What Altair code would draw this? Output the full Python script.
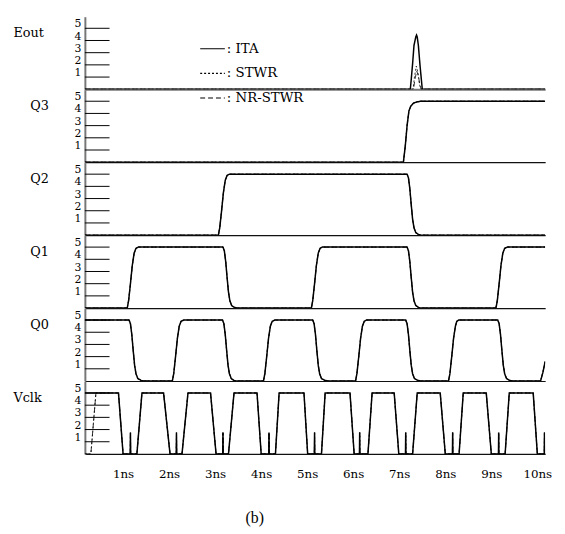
import altair as alt
import pandas as pd

SERIES = ["ITA", "STWR", "NR-STWR"]
PANELS = ["Eout", "Q3", "Q2", "Q1", "Q0", "Vclk"]
Y_TICKS = [1, 2, 3, 4, 5]
X_TICKS = [1, 2, 3, 4, 5, 6, 7, 8, 9, 10]

# ---- Eout (spike near 7.2 ns) ----
EOUT_ITA_T = [0, 7.07, 7.09, 7.12, 7.15, 7.19, 7.205, 7.22, 7.245, 7.28, 7.31, 7.33, 10.0]
EOUT_ITA_V = [0, 0, 0.8, 2.1, 3.6, 4.3, 4.45, 4.3, 3.6, 2.0, 0.8, 0, 0]
EOUT_STWR_T = [0, 7.13, 7.16, 7.20, 7.24, 7.27, 7.30, 10.0]
EOUT_STWR_V = [0, 0, 1.0, 1.9, 1.3, 0.4, 0, 0]
EOUT_NR_T = [0, 7.14, 7.17, 7.21, 7.25, 7.28, 7.31, 10.0]
EOUT_NR_V = [0, 0, 0.8, 1.5, 1.0, 0.3, 0, 0]

# ---- Q3 ----
Q3_T = [0, 6.92, 6.96, 7.00, 7.04, 7.08, 7.14, 7.22, 7.30, 10.0]
Q3_V = [0, 0, 1.3, 3.0, 4.2, 4.6, 4.85, 4.95, 5, 5]

# ---- Q2 ----
Q2_T = [0, 2.90, 2.93, 2.97, 3.01, 3.05, 3.09, 3.14,
        7.00, 7.03, 7.06, 7.09, 7.12, 7.15, 7.19, 7.25, 7.30, 10.0]
Q2_V = [0, 0, 0.6, 2.0, 3.5, 4.5, 4.9, 5,
        5, 4.7, 3.8, 2.5, 1.3, 0.6, 0.2, 0.05, 0, 0]

# ---- Q1 ----
Q1_T = [0, 0.92, 0.95, 0.99, 1.03, 1.07, 1.11, 1.16,
        3.00, 3.03, 3.06, 3.09, 3.12, 3.15, 3.19, 3.25, 3.30,
        4.92, 4.95, 4.99, 5.03, 5.07, 5.11, 5.16,
        7.00, 7.03, 7.06, 7.09, 7.12, 7.15, 7.19, 7.25, 7.30,
        8.93, 8.96, 9.00, 9.04, 9.08, 9.12, 9.18, 10.0]
Q1_V = [0, 0, 0.6, 2.0, 3.5, 4.5, 4.9, 5,
        5, 4.7, 3.8, 2.5, 1.3, 0.6, 0.2, 0.05, 0,
        0, 0.6, 2.0, 3.5, 4.5, 4.9, 5,
        5, 4.7, 3.8, 2.5, 1.3, 0.6, 0.2, 0.05, 0,
        0, 0.6, 2.0, 3.5, 4.5, 4.9, 5, 5]

# ---- Q0 ----
Q0_T = [0, 0.96, 0.99, 1.02, 1.05, 1.08, 1.11, 1.15, 1.22, 1.28,
        1.90, 1.93, 1.97, 2.01, 2.05, 2.09, 2.15,
        2.99, 3.02, 3.05, 3.08, 3.11, 3.14, 3.18, 3.24, 3.29,
        3.88, 3.91, 3.95, 3.99, 4.03, 4.07, 4.13,
        4.95, 4.98, 5.01, 5.04, 5.07, 5.10, 5.14, 5.21, 5.29,
        5.88, 5.91, 5.95, 5.99, 6.03, 6.07, 6.12,
        6.97, 7.00, 7.03, 7.06, 7.09, 7.12, 7.16, 7.23, 7.30,
        7.90, 7.93, 7.97, 8.01, 8.05, 8.08, 8.12,
        8.97, 9.00, 9.03, 9.06, 9.09, 9.12, 9.16, 9.23, 9.29,
        9.90, 9.95, 10.0]
Q0_V = [5, 5, 4.7, 3.8, 2.5, 1.3, 0.6, 0.2, 0.05, 0,
        0, 0.6, 2.0, 3.5, 4.5, 4.9, 5,
        5, 4.7, 3.8, 2.5, 1.3, 0.6, 0.2, 0.05, 0,
        0, 0.6, 2.0, 3.5, 4.5, 4.9, 5,
        5, 4.7, 3.8, 2.5, 1.3, 0.6, 0.2, 0.05, 0,
        0, 0.6, 2.0, 3.5, 4.5, 4.9, 5,
        5, 4.7, 3.8, 2.5, 1.3, 0.6, 0.2, 0.05, 0,
        0, 0.6, 2.0, 3.5, 4.5, 4.9, 5,
        5, 4.7, 3.8, 2.5, 1.3, 0.6, 0.2, 0.05, 0,
        0, 0.7, 1.6]

# ---- Vclk ----
VCLK_T = [0, 0.73, 0.83, 0.985, 0.99, 0.995, 1.13, 1.24,
          1.71, 1.85, 1.985, 1.99, 1.995, 2.11, 2.24,
          2.73, 2.85, 2.995, 3.0, 3.005, 3.12, 3.24,
          3.74, 3.83, 3.995, 4.0, 4.005, 4.14, 4.22,
          4.76, 4.84, 4.985, 4.99, 4.995, 5.14, 5.22,
          5.76, 5.85, 5.965, 5.97, 5.975, 6.15, 6.24,
          6.72, 6.82, 6.965, 6.97, 6.975, 7.12, 7.22,
          7.72, 7.83, 7.985, 7.99, 7.995, 8.13, 8.22,
          8.72, 8.83, 8.985, 8.99, 8.995, 9.13, 9.22,
          9.74, 9.83, 9.98, 9.985, 9.99, 10.0]
VCLK_V = [5, 5, 0, 0, 1.75, 0, 0, 5,
          5, 0, 0, 1.75, 0, 0, 5,
          5, 0, 0, 1.75, 0, 0, 5,
          5, 0, 0, 1.75, 0, 0, 5,
          5, 0, 0, 1.75, 0, 0, 5,
          5, 0, 0, 1.75, 0, 0, 5,
          5, 0, 0, 1.75, 0, 0, 5,
          5, 0, 0, 1.75, 0, 0, 5,
          5, 0, 0, 1.75, 0, 0, 5,
          5, 0, 0, 1.75, 0, 0]
VCLK_START_T = [0, 0.13, 0.24]
VCLK_START_V = [0, 0, 5]

rows = []


def add(panel, series, ts, vs):
    for i, (t, v) in enumerate(zip(ts, vs)):
        rows.append({"panel": panel, "series": series, "t": t, "v": v, "i": i})


add("Eout", "ITA", EOUT_ITA_T, EOUT_ITA_V)
add("Eout", "STWR", EOUT_STWR_T, EOUT_STWR_V)
add("Eout", "NR-STWR", EOUT_NR_T, EOUT_NR_V)
for s in SERIES:
    add("Q3", s, Q3_T, Q3_V)
    add("Q2", s, Q2_T, Q2_V)
    add("Q1", s, Q1_T, Q1_V)
    add("Q0", s, Q0_T, Q0_V)
add("Vclk", "ITA", VCLK_T, VCLK_V)
for s in ["STWR", "NR-STWR"]:
    add("Vclk", s, VCLK_START_T + VCLK_T[1:], VCLK_START_V + VCLK_V[1:])

df = pd.DataFrame(rows)

FONT = "DejaVu Serif"
dash_scale = alt.Scale(domain=SERIES, range=[[1, 0], [2, 2], [5, 3]])
legend = alt.Legend(
    title=None, orient="none", legendX=116, legendY=19, direction="vertical",
    symbolType="stroke", symbolSize=625, symbolStrokeWidth=1.2,
    symbolStrokeColor="black",
    labelExpr="': ' + datum.label", labelFont=FONT, labelFontSize=13.5,
    labelColor="black", labelOffset=1, rowPadding=5,
)

xs = alt.Scale(domain=[0, 10], nice=False, zero=False)
ys = alt.Scale(domain=[0, 5.95], nice=False, zero=False)


def panel(name):
    last = name == "Vclk"
    title_left = name in ("Eout", "Vclk")
    yaxis = alt.Axis(
        values=Y_TICKS, title=name, titleAngle=0,
        titleAlign="left" if title_left else "right",
        titleX=-73 if title_left else -37, titleY=16, titleBaseline="middle",
        titleFont=FONT, titleFontSize=13, titleFontWeight="normal",
        titleColor="black", labelFont=FONT, labelFontSize=11,
        labelColor="black", labelPadding=4, labelOffset=-4.5,
        labelOverlap=False, ticks=False, grid=False,
        domainColor="#777", domainWidth=2,
    )
    if last:
        xaxis = alt.Axis(
            values=X_TICKS, labelExpr="datum.value + 'ns'", labelFont=FONT,
            labelFontSize=12, labelColor="black", labelOffset=-8, labelPadding=15,
            labelFlush=False, labelOverlap=False, ticks=False, grid=False,
            title=None, domainColor="#111", domainWidth=1.2,
        )
    else:
        xaxis = alt.Axis(
            labels=False, ticks=False, grid=False, title=None,
            domainColor="#777" if name == "Eout" else "#111",
            domainWidth=2 if name == "Eout" else 1.2,
        )
    ticks = alt.Chart(pd.DataFrame({"level": Y_TICKS})).mark_rule(
        color="black", strokeWidth=1
    ).encode(
        y=alt.Y("level:Q", scale=ys, axis=yaxis),
        x=alt.value(0), x2=alt.value(25),
    )
    d = df[df.panel == name]

    def line_layer(data, width):
        return alt.Chart(data).mark_line(
            color="black", strokeWidth=width, clip=True
        ).encode(
            x=alt.X("t:Q", scale=xs, axis=xaxis),
            y=alt.Y("v:Q", scale=ys, axis=yaxis),
            strokeDash=alt.StrokeDash("series:N", scale=dash_scale, legend=legend, sort=SERIES),
            order="i:Q",
        )
    others = line_layer(d[d.series != "ITA"], 0.8)
    ita = line_layer(d[d.series == "ITA"], 1.5)
    return alt.layer(ticks, others, ita).properties(width=467, height=73.6)


chart = alt.vconcat(*[panel(p) for p in PANELS], spacing=0, bounds="flush").properties(
    title=alt.TitleParams(
        "(b)", orient="bottom", anchor="middle", dx=-28, offset=31,
        font="Liberation Serif", fontSize=16, fontWeight="normal", color="black",
    ),
    background="white",
).configure_view(strokeWidth=0)

chart.save("out.html", embed_options={"renderer": "svg", "actions": False})
